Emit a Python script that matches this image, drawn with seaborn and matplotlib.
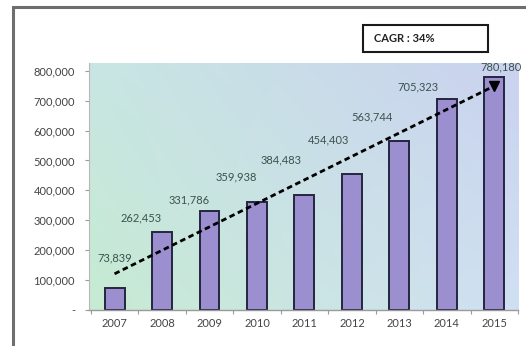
import numpy as np
import pandas as pd
import matplotlib
matplotlib.use("Agg")
import matplotlib.pyplot as plt
import seaborn as sns
from matplotlib.colors import to_rgb
from matplotlib.patches import Rectangle
from matplotlib.ticker import FuncFormatter

# Annual values
years = ["2007", "2008", "2009", "2010", "2011", "2012", "2013", "2014", "2015"]
values = [73839, 262453, 331786, 359938, 384483, 454403, 563744, 705323, 780180]
cagr_text = "CAGR : 34%"
y_ticks = [0, 100000, 200000, 300000, 400000, 500000, 600000, 700000, 800000]

# Placement of each value label relative to its bar (category units, value units)
label_offsets = [(0.0, 100000), (-0.44, 46000), (-0.43, 36000), (-0.44, 85000),
                 (-0.49, 118000), (-0.50, 115000), (-0.57, 81000), (-0.62, 41000),
                 (0.15, 33000)]

sns.set_theme(style="white")
plt.rcParams["font.family"] = ["Lato", "DejaVu Sans"]

fig = plt.figure(figsize=(5.26, 3.46), dpi=100)
rect = [0.169, 0.104, 0.816, 0.714]

# Gradient backdrop behind the plot area
bg = fig.add_axes(rect, zorder=0)
bl, tl = np.array(to_rgb("#c6ebd2")), np.array(to_rgb("#c8e6e3"))
tr, br = np.array(to_rgb("#cad2ef")), np.array(to_rgb("#d0e0f3"))
u = np.linspace(0, 1, 200)[None, :, None]
v = np.linspace(0, 1, 200)[:, None, None]
grad = (1 - u) * (1 - v) * bl + u * (1 - v) * br + (1 - u) * v * tl + u * v * tr
bg.imshow(grad, origin="lower", extent=[0, 1, 0, 1], aspect="auto", interpolation="bilinear")
bg.set_axis_off()

ax = fig.add_axes(rect, zorder=1)
ax.set_facecolor("none")

df = pd.DataFrame({"year": years, "value": values})
sns.barplot(data=df, x="year", y="value", color="#9b8fd0", saturation=1,
            width=0.42, edgecolor="#25253f", linewidth=1.4, ax=ax, zorder=2)

# Linear trend across the years
idx = np.arange(len(values))
slope, intercept = np.polyfit(idx, values, 1)
trend = slope * idx + intercept
ax.plot(idx, trend, color="black", lw=2.0, ls=(0, (2.0, 1.3)), zorder=3)
ax.plot(idx[-1], trend[-1], marker="v", color="black", ms=7, zorder=4)

for i, (val, (dx, dy)) in enumerate(zip(values, label_offsets)):
    ax.text(i + dx, val + dy, f"{val:,}", ha="center", va="center",
            fontsize=8, color="#3a524c", zorder=5)

ax.set_xlim(-0.54, 8.5)
ax.set_ylim(0, 826000)
ax.set_yticks(y_ticks)
ax.yaxis.set_major_formatter(FuncFormatter(lambda t, p: "-" if t == 0 else f"{t:,.0f}"))
ax.set_xticks(np.arange(-0.5, 9, 1), minor=True)
ax.set_xlabel("")
ax.set_ylabel("")

ax.tick_params(axis="y", which="major", left=True, length=3, width=0.8, color="#9a9a9a",
               labelsize=8, labelcolor="#444444", pad=7)
ax.tick_params(axis="x", which="major", length=0, labelsize=8, labelcolor="#444444", pad=6)
ax.tick_params(axis="x", which="minor", bottom=True, length=3, width=0.8,
               color="#9a9a9a", direction="out")

for side in ("top", "right"):
    ax.spines[side].set_visible(False)
ax.spines["bottom"].set_color("#9a9a9a")
ax.spines["bottom"].set_linewidth(1.0)
ax.spines["left"].set_color("#b8b8b8")
ax.spines["left"].set_linewidth(0.8)

# Outer chart frame
fig.add_artist(Rectangle((13 / 526, -0.1), 1.2, 1 - 7 / 346 + 0.1,
                         transform=fig.transFigure, fill=False,
                         edgecolor="#6e6e6e", lw=2.2))

# CAGR box
fig.add_artist(Rectangle((363 / 526, 1 - 52 / 346), 125 / 526, 27 / 346,
                         transform=fig.transFigure, facecolor="white",
                         edgecolor="#1a1a1a", lw=1.5))
fig.text(374 / 526, 1 - 38.5 / 346, cagr_text, ha="left", va="center",
         fontsize=8, fontweight="bold", color="#222222")

fig.savefig("out.png", dpi=100)
